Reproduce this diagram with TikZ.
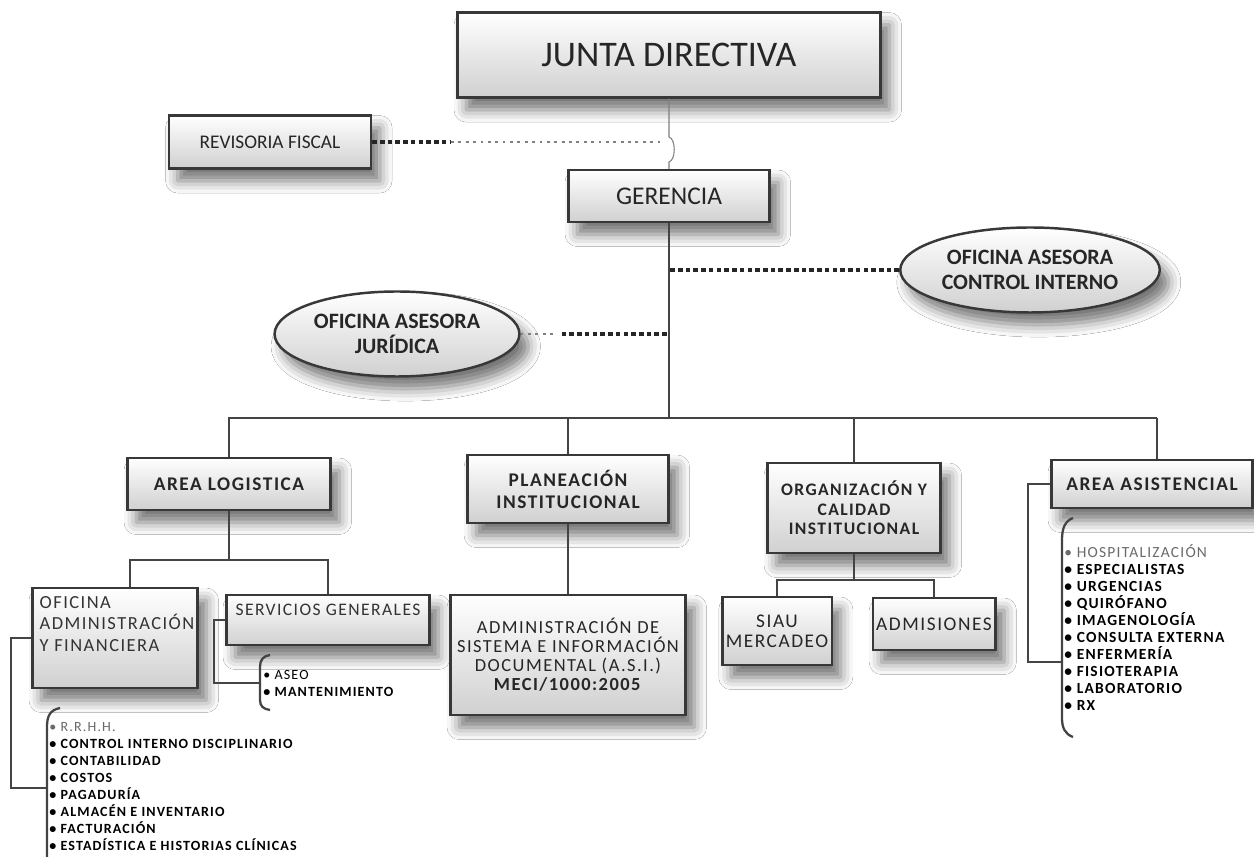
\documentclass[tikz,border=0pt]{standalone}
\usepackage{fontspec}
\setmainfont{Carlito}
\newfontfamily\trackfont{Carlito}[LetterSpace=8]
\newfontfamily\listfont{Carlito}[LetterSpace=8]
\usetikzlibrary{shapes.geometric,shadows.blur}

\definecolor{boxline}{HTML}{383838}
\definecolor{boxgray}{HTML}{D0D0D0}
\definecolor{linegray}{HTML}{444444}
\definecolor{itemgray}{HTML}{6A6A6A}

\tikzset{
  orgbox/.style={draw=boxline, line width=1.4pt, top color=white, bottom color=boxgray,
    blur shadow={shadow xshift=5pt, shadow yshift=-7pt, shadow blur radius=7pt, shadow opacity=55},
    inner sep=2pt, align=center, text=black!85},
  orgoval/.style={orgbox, ellipse},
  link/.style={draw=linegray, line width=1.3pt},
  thinlink/.style={draw=gray, line width=0.6pt},
  dotlink/.style={draw=black!85, line width=2.4pt, dash pattern=on 2.6pt off 1.8pt},
  thindot/.style={draw=gray, line width=1pt, dash pattern=on 1.6pt off 2.6pt},
  itemlist/.style={anchor=north west, align=left, inner sep=0pt, font=\listfont\bfseries\fontsize{8}{9.7}\selectfont}
}

\begin{document}
\begin{tikzpicture}[x=0.02cm, y=-0.02cm]
\useasboundingbox[fill=white] (0,0) rectangle (1254,857);

% cabeza
\node[orgbox, minimum width=8.46cm, minimum height=1.7cm, font=\fontsize{20.5}{24}\selectfont] (jd) at (669,55) {JUNTA DIRECTIVA};
\node[orgbox, minimum width=4.04cm, minimum height=1.06cm, font=\fontsize{11}{13}\selectfont] (rev) at (270,142) {REVISORIA FISCAL};
\node[orgbox, minimum width=4.02cm, minimum height=1.04cm, font=\fontsize{14.5}{17}\selectfont] (ger) at (669,196) {GERENCIA};

% asesores
\node[orgoval, minimum width=4.78cm, minimum height=1.7cm, font=\bfseries\fontsize{12.5}{14.5}\selectfont] (ci) at (1030,270) {OFICINA ASESORA\\CONTROL INTERNO};
\node[orgoval, minimum width=4.58cm, minimum height=1.7cm, font=\bfseries\fontsize{12.5}{14.5}\selectfont] (jur) at (397,334) {OFICINA ASESORA\\JURÍDICA};

% areas
\node[orgbox, minimum width=4.06cm, minimum height=1.04cm, font=\trackfont\bfseries\fontsize{11}{13}\selectfont] (log) at (229,484) {AREA LOGISTICA};
\node[orgbox, minimum width=4.02cm, minimum height=1.36cm, font=\trackfont\bfseries\fontsize{11}{12.5}\selectfont] (plan) at (568,489) {PLANEACIÓN\\INSTITUCIONAL};
\node[orgbox, minimum width=3.46cm, minimum height=1.8cm, font=\trackfont\bfseries\fontsize{10}{11}\selectfont] (org) at (854,508) {ORGANIZACIÓN Y\\CALIDAD\\INSTITUCIONAL};
\node[orgbox, minimum width=4.02cm, minimum height=0.96cm, font=\trackfont\bfseries\fontsize{11}{13}\selectfont] (asis) at (1152,484) {AREA ASISTENCIAL};

% dependencias
\node[orgbox, minimum width=3.3cm, minimum height=2cm,
  label={[anchor=north west, inner sep=0pt, align=left, xshift=0.16cm, yshift=-0.18cm, text=black!80, font=\trackfont\fontsize{10.5}{12.4}\selectfont]north west:OFICINA\\ADMINISTRACIÓN\\Y FINANCIERA}] (ofadm) at (115,638) {};
\node[orgbox, minimum width=4.06cm, minimum height=1cm,
  label={[anchor=north, inner sep=0pt, yshift=-0.2cm, text=black!80, font=\trackfont\fontsize{10}{12}\selectfont]north:SERVICIOS GENERALES}] (sg) at (328,620) {};
\node[orgbox, minimum width=4.7cm, minimum height=2.4cm, font=\trackfont\fontsize{10.5}{10.8}\selectfont] (asi) at (568,655) {ADMINISTRACIÓN DE\\SISTEMA E INFORMACIÓN\\DOCUMENTAL (A.S.I.)\\\textbf{MECI/1000:2005}};
\node[orgbox, minimum width=2.16cm, minimum height=1.36cm, font=\trackfont\fontsize{11}{11.5}\selectfont] (siau) at (777,631) {SIAU\\MERCADEO};
\node[orgbox, minimum width=2.36cm, minimum height=1.04cm, font=\trackfont\fontsize{11}{13}\selectfont] (adm) at (934,624) {ADMISIONES};

% listas
\node[itemlist] (lstadm) at (49,722) {{\mdseries\color{itemgray}\textbullet\ R.R.H.H.}\\
  \textbullet\ CONTROL INTERNO DISCIPLINARIO\\
  \textbullet\ CONTABILIDAD\\
  \textbullet\ COSTOS\\
  \textbullet\ PAGADURÍA\\
  \textbullet\ ALMACÉN E INVENTARIO\\
  \textbullet\ FACTURACIÓN\\
  \textbullet\ ESTADÍSTICA E HISTORIAS CLÍNICAS};
\node[itemlist] (lstsg) at (263,670) {{\mdseries\textbullet\ ASEO}\\
  \textbullet\ MANTENIMIENTO};
\node[itemlist, font=\listfont\bfseries\fontsize{8.8}{9.7}\selectfont] (lstasis) at (1064,544) {{\mdseries\color{itemgray}\textbullet\ HOSPITALIZACIÓN}\\
  \textbullet\ ESPECIALISTAS\\
  \textbullet\ URGENCIAS\\
  \textbullet\ QUIRÓFANO\\
  \textbullet\ IMAGENOLOGÍA\\
  \textbullet\ CONSULTA EXTERNA\\
  \textbullet\ ENFERMERÍA\\
  \textbullet\ FISIOTERAPIA\\
  \textbullet\ LABORATORIO\\
  \textbullet\ RX};

% puntos de union
\coordinate (bus) at (669,418);
\coordinate (busR) at (1157,418);
\coordinate (revmid) at (451,142);
\coordinate (hop) at (663,142);
\coordinate (logfork) at (229,560);
\coordinate (admdrop) at (130,560);
\coordinate (orgfork) at (854,580);
\coordinate (brkadm) at (47,788);
\coordinate (brksg) at (260,683);
\coordinate (brkasis) at (1062,662);

% lineas
\draw[thinlink] (jd.south) -- (669,137) .. controls (676,139) and (676,160) .. (669,162) -- (ger.north);
\draw[dotlink] (rev.east) -- (revmid);
\draw[thindot] (revmid) -- (hop);
\draw[link] (ger.south) -- (bus);
\draw[dotlink] (ci.west) -- (ci.west -| ger.south);
\draw[thindot] (jur.east) -- ++(36,0);
\draw[dotlink] (jur.east) ++(41,0) -- (jur.east -| ger.south);
\draw[link] (log.north) |- (busR);
\draw[link] (busR) -- (busR |- asis.north);
\draw[link] (plan.north) -- (plan.north |- bus);
\draw[link] (org.north) -- (org.north |- bus);
\draw[link] (log.south) -- (logfork);
\draw[link] (admdrop |- ofadm.north) -- (admdrop) -| (sg.north);
\draw[link] (plan.south) -- (asi.north);
\draw[link] (org.south) -- (orgfork);
\draw[link] (siau.north) |- (orgfork) -| (adm.north);
\draw[link] (ofadm.west) -- ++(-20,0) |- (brkadm);
\draw[link] (sg.west) -- ++(-11,0) |- (brksg);
\draw[link] (asis.west) -- ++(-22,0) |- (brkasis);

% llaves
\draw[link] (60,708) .. controls (50,710) and (47,716) .. (47,727) -- (47,860);
\draw[link] (270,655) .. controls (263,656) and (260,660) .. (260,667) -- (260,700) .. controls (260,706) and (263,709) .. (270,710);
\draw[link] (1073,518) .. controls (1065,521) and (1062,528) .. (1062,540) -- (1062,718) .. controls (1062,728) and (1065,734) .. (1073,737);
\end{tikzpicture}
\end{document}
